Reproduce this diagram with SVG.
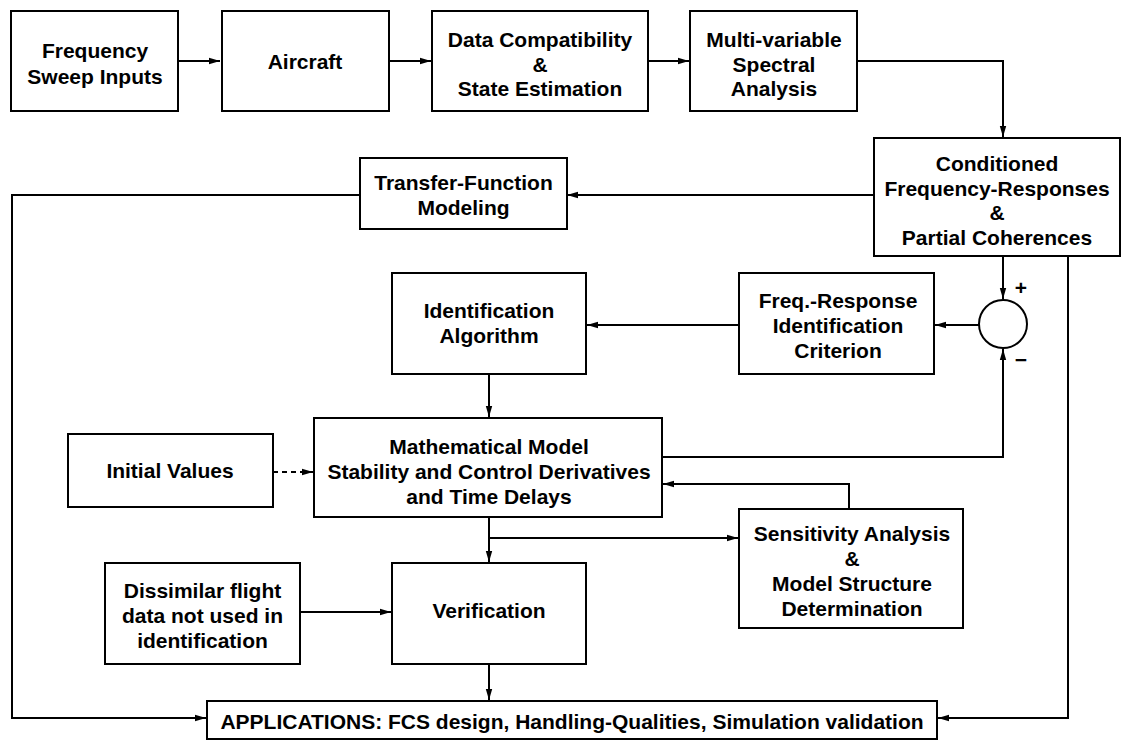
<svg xmlns="http://www.w3.org/2000/svg" width="1122" height="740" viewBox="0 0 1122 740">
<style>
.b{fill:#fff;stroke:#000;stroke-width:2}
.t{font-family:"Liberation Sans",Arial,sans-serif;font-weight:bold;font-size:21px;text-anchor:middle;fill:#000}
.c{fill:none;stroke:#000;stroke-width:2}
.a{marker-end:url(#ah)}
.d{stroke-dasharray:5,4}
</style>
<defs>
<marker id="ah" markerUnits="userSpaceOnUse" markerWidth="12" markerHeight="8" refX="11" refY="4" orient="auto">
<path d="M0,0.8 L11,4 L0,7.2 z" fill="#000"/>
</marker>
</defs>
<rect width="1122" height="740" fill="#fff"/>
<g id="connectors">
<path class="c a" d="M178,61 H220"/>
<path class="c a" d="M389,61 H431"/>
<path class="c a" d="M648,61 H689"/>
<path class="c a" d="M857,61 H1003 V137"/>
<path class="c a" d="M873,195 H567"/>
<path class="c a" d="M360,195 H12 V718 H206"/>
<path class="c a" d="M1003,256 V299"/>
<path class="c a" d="M979,325 H935"/>
<path class="c a" d="M739,325 H587"/>
<path class="c a" d="M489,374 V417"/>
<path class="c a d" d="M273,472 H313"/>
<path class="c a" d="M662,457 H1003 V349"/>
<path class="c a" d="M849,509 V484 H663"/>
<path class="c a" d="M489,517 V562"/>
<path class="c a" d="M489,538 H738"/>
<path class="c a" d="M300,612 H391"/>
<path class="c a" d="M489,664 V700"/>
<path class="c a" d="M1068,256 V718 H938"/>
</g>
<g id="n1"><rect class="b" x="11" y="11" width="167" height="100"/><text class="t" x="95" y="58">Frequency</text><text class="t" x="95" y="83.5">Sweep Inputs</text></g>
<g id="n2"><rect class="b" x="222" y="11" width="167" height="100"/><text class="t" x="305" y="68.5">Aircraft</text></g>
<g id="n3"><rect class="b" x="432" y="11" width="216" height="100"/><text class="t" x="540" y="46.5">Data Compatibility</text><text class="t" x="540" y="71.5">&amp;</text><text class="t" x="540" y="96">State Estimation</text></g>
<g id="n4"><rect class="b" x="690" y="11" width="167" height="100"/><text class="t" x="774" y="46.5">Multi-variable</text><text class="t" x="774" y="71.5">Spectral</text><text class="t" x="774" y="96">Analysis</text></g>
<g id="n5"><rect class="b" x="874" y="138" width="246" height="118"/><text class="t" x="997" y="171">Conditioned</text><text class="t" x="997" y="195.5">Frequency-Responses</text><text class="t" x="997" y="220">&amp;</text><text class="t" x="997" y="244.5">Partial Coherences</text></g>
<g id="n6"><rect class="b" x="360" y="158" width="207" height="71"/><text class="t" x="463.5" y="190">Transfer-Function</text><text class="t" x="463.5" y="215">Modeling</text></g>
<g id="n7"><rect class="b" x="392" y="273" width="194" height="101"/><text class="t" x="489" y="318">Identification</text><text class="t" x="489" y="343">Algorithm</text></g>
<g id="n8"><rect class="b" x="739" y="273" width="195" height="101"/><text class="t" x="838" y="308">Freq.-Response</text><text class="t" x="838" y="333">Identification</text><text class="t" x="838" y="358">Criterion</text></g>
<g id="n9"><circle cx="1003" cy="324" r="24" fill="#fff" stroke="#000" stroke-width="2"/><text class="t" x="1021" y="295">+</text><text class="t" x="1021" y="367">−</text></g>
<g id="n10"><rect class="b" x="314" y="418" width="348" height="99"/><text class="t" x="489" y="454">Mathematical Model</text><text class="t" x="489" y="479">Stability and Control Derivatives</text><text class="t" x="489" y="504">and Time Delays</text></g>
<g id="n11"><rect class="b" x="68" y="434" width="205" height="73"/><text class="t" x="170" y="478">Initial Values</text></g>
<g id="n12"><rect class="b" x="739" y="509" width="224" height="119"/><text class="t" x="852" y="541">Sensitivity Analysis</text><text class="t" x="852" y="566">&amp;</text><text class="t" x="852" y="591">Model Structure</text><text class="t" x="852" y="616">Determination</text></g>
<g id="n13"><rect class="b" x="105" y="563" width="195" height="101"/><text class="t" x="202.5" y="598">Dissimilar flight</text><text class="t" x="202.5" y="623">data not used in</text><text class="t" x="202.5" y="648">identification</text></g>
<g id="n14"><rect class="b" x="392" y="563" width="194" height="101"/><text class="t" x="489" y="618">Verification</text></g>
<g id="n15"><rect class="b" x="207" y="701" width="730" height="38"/><text class="t" x="572" y="729">APPLICATIONS: FCS design, Handling-Qualities, Simulation validation</text></g>
</svg>
